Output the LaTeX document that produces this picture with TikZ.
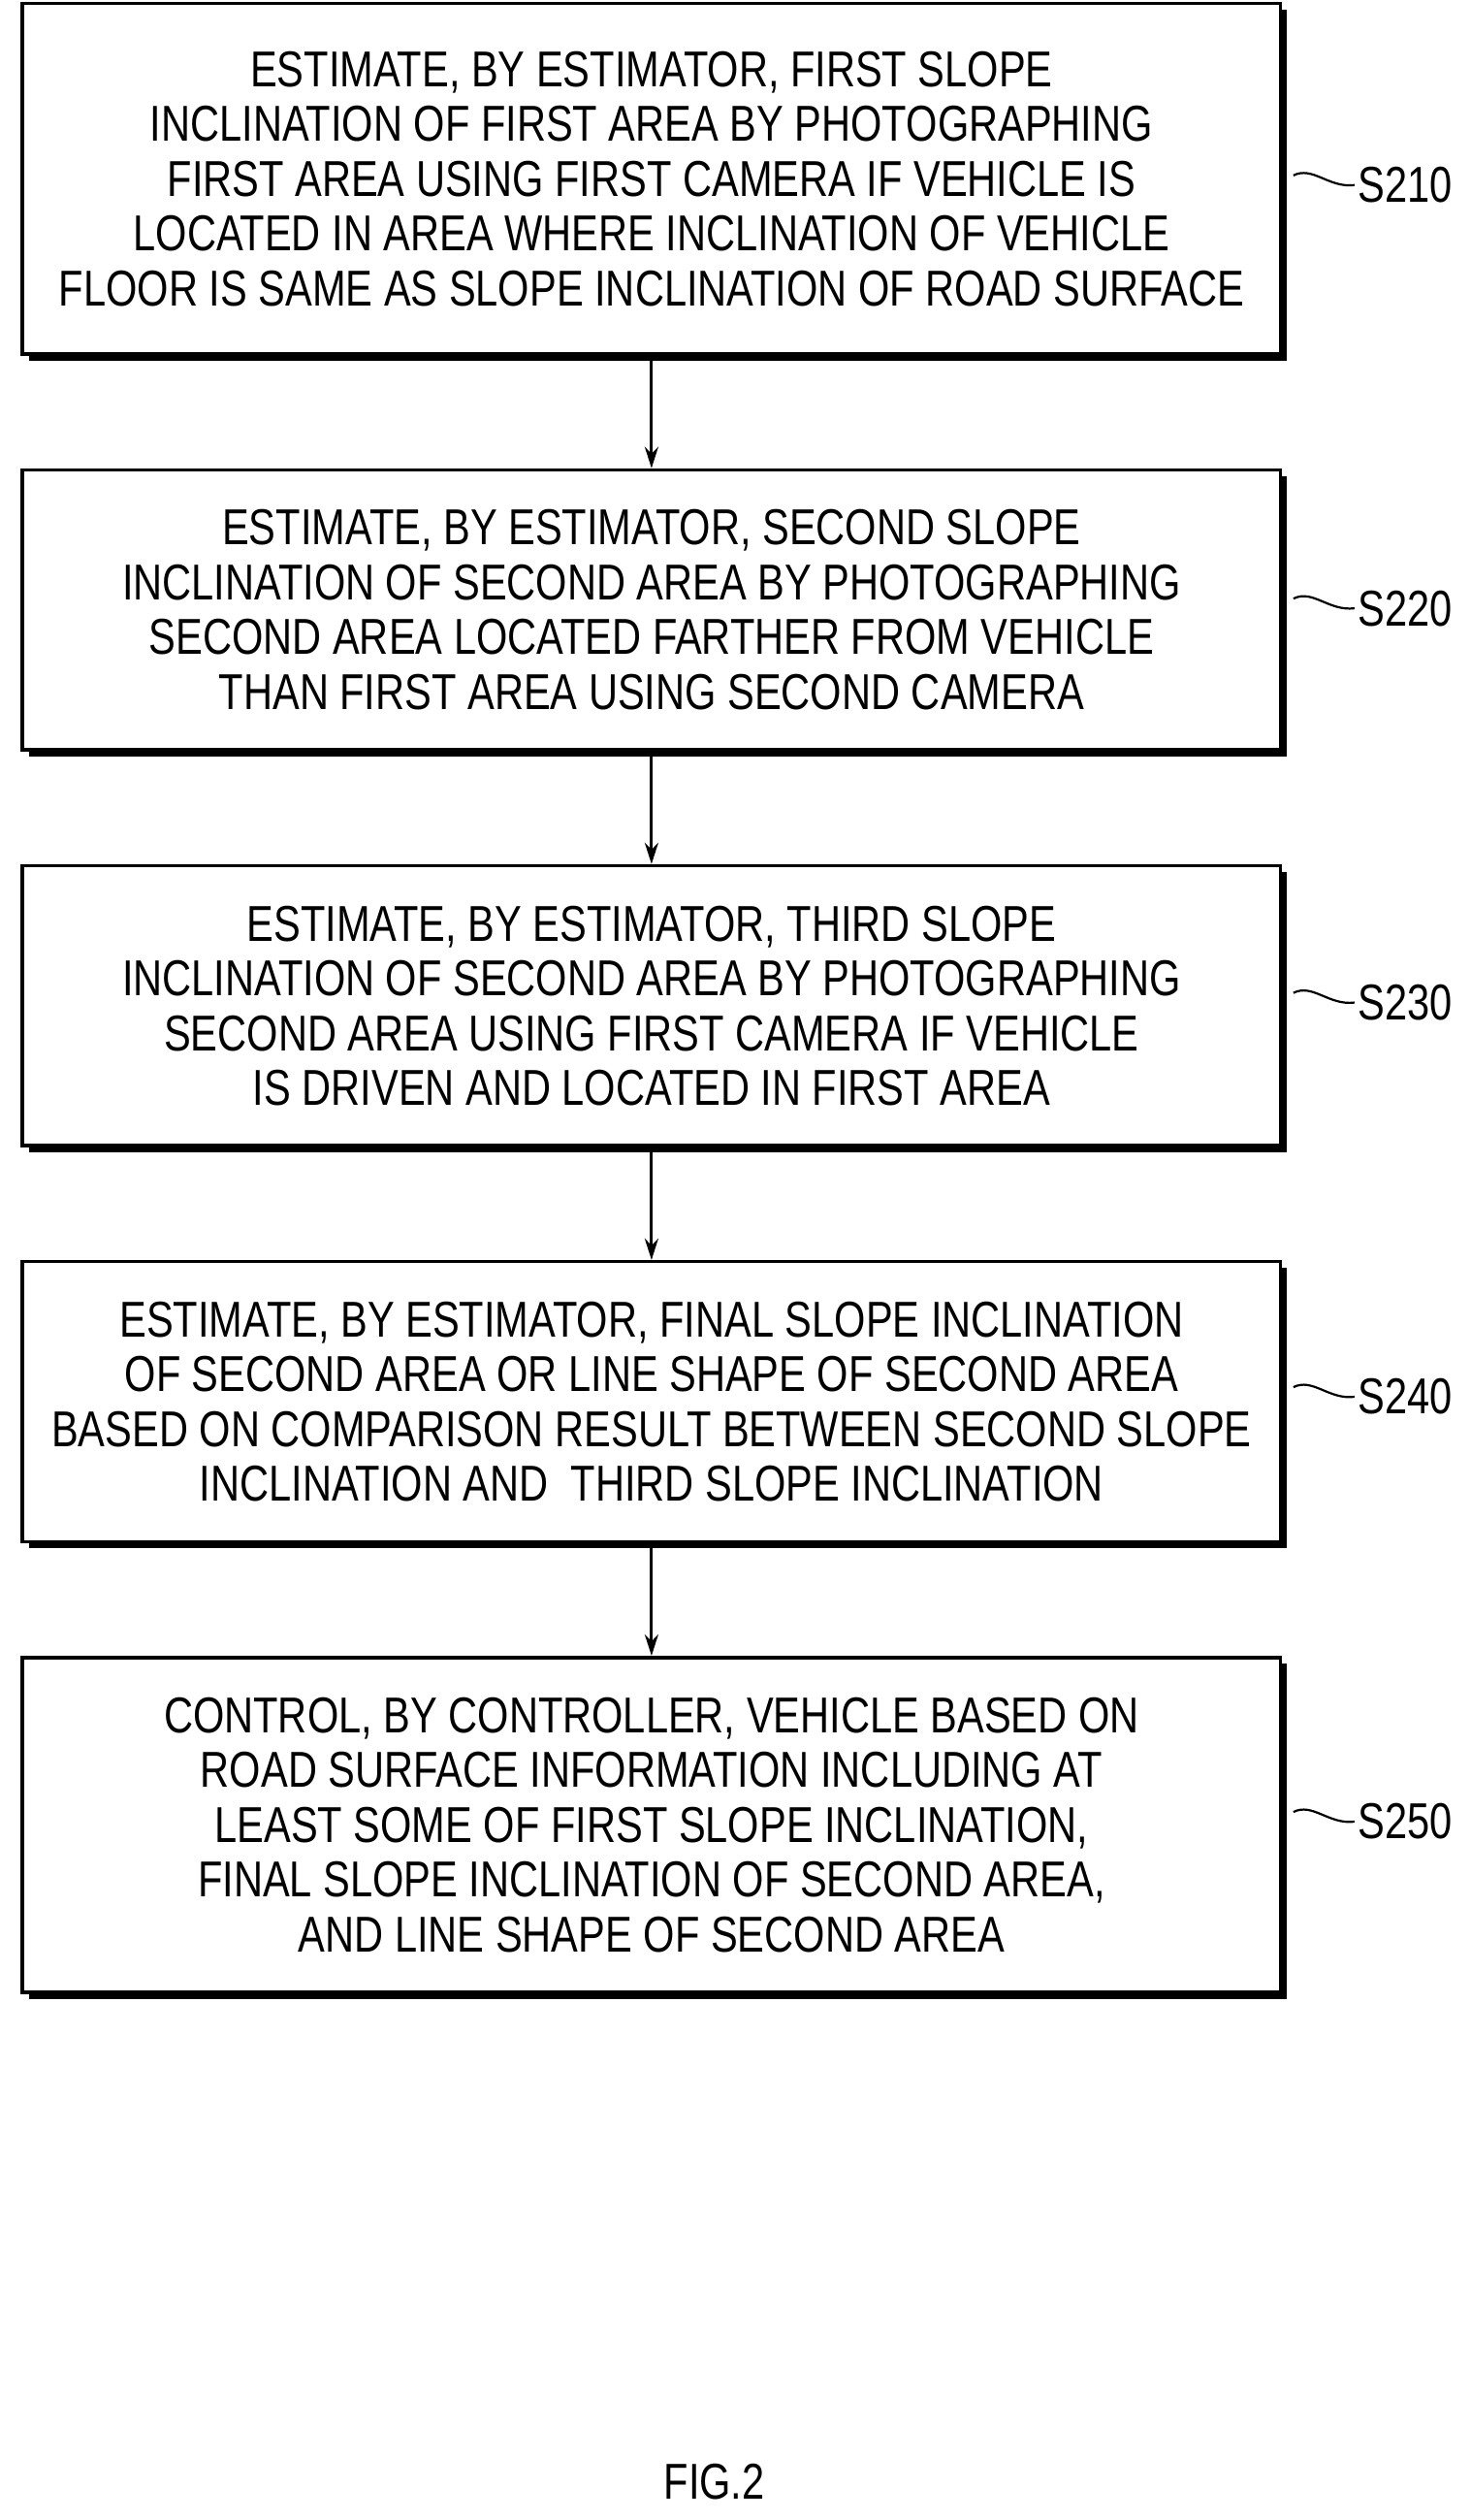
\documentclass[tikz,border=0pt]{standalone}
\usepackage{fontspec}
\setmainfont{Liberation Sans}[FakeStretch=0.8]
\usetikzlibrary{arrows.meta}
\begin{document}
\begin{tikzpicture}[x=1.659pt,y=-1.659pt,
  stepbox/.style={draw,line width=3.5pt,fill=white,align=center,inner sep=0pt,
    font=\fontsize{52}{56.5}\selectfont},
  lbl/.style={font=\fontsize{52}{56}\selectfont,anchor=west},
  arr/.style={line width=3pt,-{Stealth[length=22pt,width=14pt]}}]
\useasboundingbox (0,0) rectangle (914,1566);
\newcommand{\mystepbox}[6]{% name, x1,y1,x2,y2, text
  \fill (#2+4,#3+4) rectangle (#4+4,#5+4);
  \node[stepbox,minimum width={(#4-#2)*1.659pt},minimum height={(#5-#3)*1.659pt}] (#1) at ({(#2+#4)/2},{(#3+#5)/2}) {#6};}
\mystepbox{b1}{14}{2}{796}{220}{ESTIMATE, BY ESTIMATOR, FIRST SLOPE\\INCLINATION OF FIRST AREA BY PHOTOGRAPHING\\FIRST AREA USING FIRST CAMERA IF VEHICLE IS\\LOCATED IN AREA WHERE INCLINATION OF VEHICLE\\FLOOR IS SAME AS SLOPE INCLINATION OF ROAD SURFACE}
\mystepbox{b2}{14}{292}{796}{466}{ESTIMATE, BY ESTIMATOR, SECOND SLOPE\\INCLINATION OF SECOND AREA BY PHOTOGRAPHING\\SECOND AREA LOCATED FARTHER FROM VEHICLE\\THAN FIRST AREA USING SECOND CAMERA}
\mystepbox{b3}{14}{538}{796}{712}{ESTIMATE, BY ESTIMATOR, THIRD SLOPE\\INCLINATION OF SECOND AREA BY PHOTOGRAPHING\\SECOND AREA USING FIRST CAMERA IF VEHICLE\\IS DRIVEN AND LOCATED IN FIRST AREA}
\mystepbox{b4}{14}{784}{796}{958}{ESTIMATE, BY ESTIMATOR, FINAL SLOPE INCLINATION\\OF SECOND AREA OR LINE SHAPE OF SECOND AREA\\BASED ON COMPARISON RESULT BETWEEN SECOND SLOPE\\INCLINATION AND \ THIRD SLOPE INCLINATION}
\mystepbox{b5}{14}{1030}{796}{1238}{CONTROL, BY CONTROLLER, VEHICLE BASED ON\\ROAD SURFACE INFORMATION INCLUDING AT\\LEAST SOME OF FIRST SLOPE INCLINATION,\\FINAL SLOPE INCLINATION OF SECOND AREA,\\AND LINE SHAPE OF SECOND AREA}
\draw[arr] (b1.south) -- (b2.north);
\draw[arr] (b2.south) -- (b3.north);
\draw[arr] (b3.south) -- (b4.north);
\draw[arr] (b4.south) -- (b5.north);
\foreach \b/\t/\y in {b1/S210/115,b2/S220/378,b3/S230/623,b4/S240/868,b5/S250/1132}{
  \node[lbl] (l\b) at (842,\y) {\t};
  \draw[line width=2.2pt] (804,\y-6) .. controls (816,\y-12) and (826,\y+2) .. (l\b.west);
}
\node[font=\fontsize{52}{56}\selectfont] (fig) at (444,1542) {FIG.2};
\end{tikzpicture}
\end{document}
